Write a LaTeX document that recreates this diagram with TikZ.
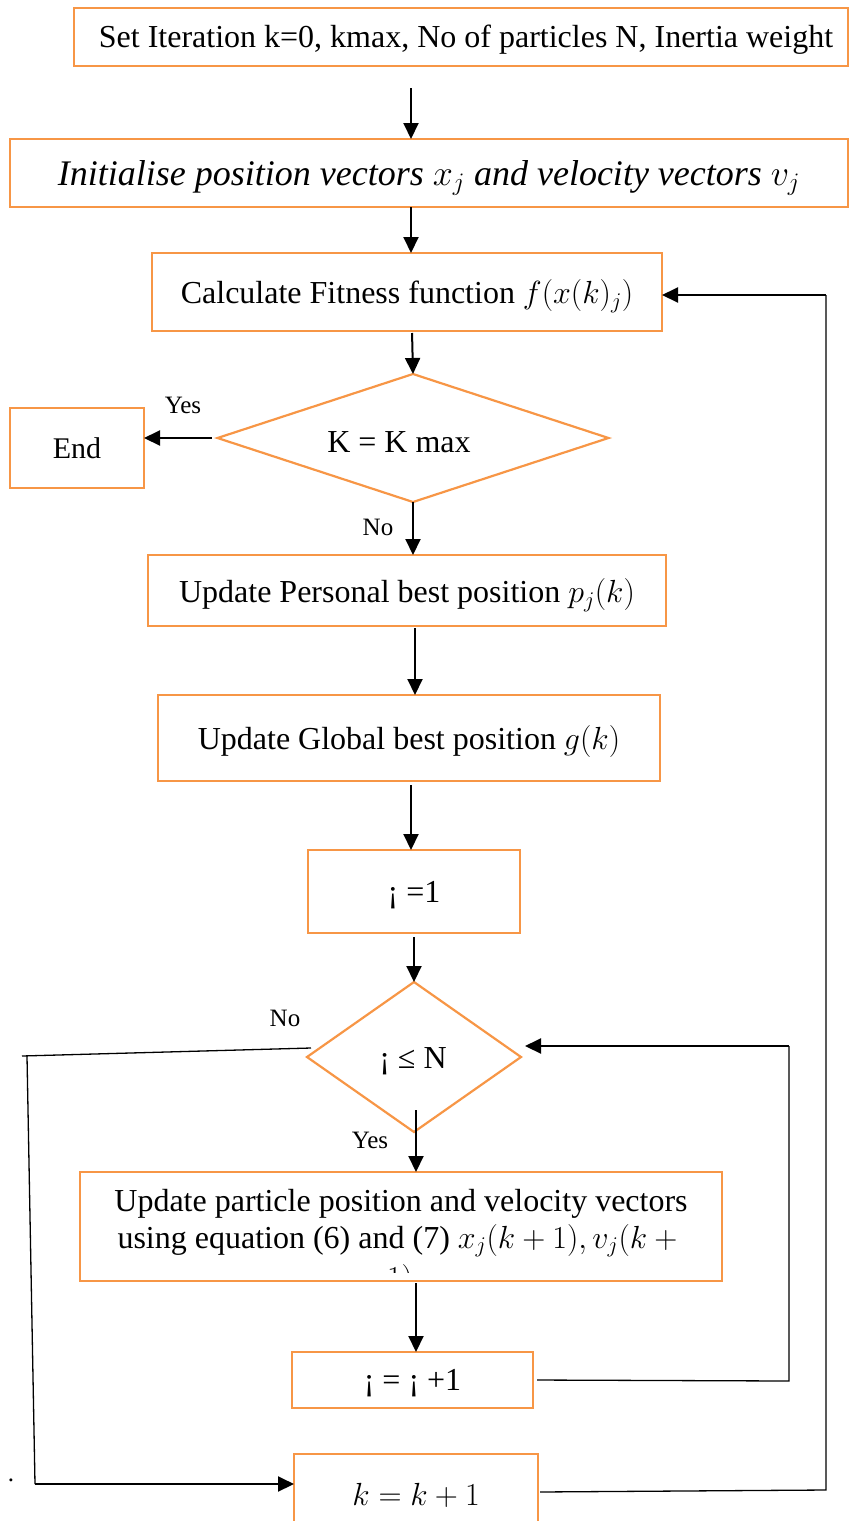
\RequirePackage{fix-cm}
\documentclass[tikz,border=0pt]{standalone}
\usepackage{fontspec}
\setmainfont{Liberation Serif}
\usetikzlibrary{shapes.geometric,arrows.meta}
\definecolor{boxorange}{HTML}{F79646}
\begin{document}
\begin{tikzpicture}[x=1pt,y=-1pt,
  box/.style={draw=boxorange,line width=2.2pt,rectangle,inner sep=0pt,outer sep=0pt,text depth=0pt,font=\fontsize{32}{37}\selectfont},
  dia/.style={draw=boxorange,line width=2.2pt,diamond,inner sep=0pt,outer sep=0pt},
  txt/.style={inner sep=0pt,font=\fontsize{32}{37}\selectfont},
  arr/.style={line width=2pt,-{Triangle[length=16pt,width=15pt]}},
  fb/.style={line width=1.3pt},
  lbl/.style={font=\fontsize{25}{30}\selectfont,inner sep=0pt}]
\clip (0,0) rectangle (849,1521);
% boxes
\node[box,minimum width=774pt,minimum height=58pt] (b1) at (461,37) {};
\node[txt] (b1t) at (466,40) {Set Iteration k=0, kmax, No of particles N, Inertia weight};
\node[box,minimum width=838pt,minimum height=68pt,font=\fontsize{36}{40}\selectfont\itshape] (b2) at (429,173) {Initialise position vectors $x_j$ and velocity vectors $v_j$};
\node[box,minimum width=510pt,minimum height=78pt] (b3) at (407,292) {Calculate Fitness function $f(x(k)_j)$};
\node[dia,minimum width=391pt,minimum height=128pt,aspect=3] (d1) at (413,438) {};
\node[txt] (d1t) at (399,442) {K = K max};
\node[box,minimum width=134pt,minimum height=80pt,font=\fontsize{30}{36}\selectfont] (e) at (77,448) {End};
\node[box,minimum width=518pt,minimum height=71pt] (b4) at (407,590.5) {Update Personal best position $p_j(k)$};
\node[box,minimum width=502pt,minimum height=86pt] (b5) at (409,738) {Update Global best position $g(k)$};
\node[box,minimum width=212pt,minimum height=83pt] (b6) at (414,891.5) {¡ =1};
\node[dia,minimum width=214pt,minimum height=150pt,aspect=1.43] (d2) at (414,1057) {};
\node[txt] (d2t) at (413,1061) {¡ ≤ N};
\node[box,minimum width=642pt,minimum height=109pt] (b7) at (401,1226.5) {};
\node[txt,align=center] (b7t) at (401,1223) {Update particle position and velocity vectors\\using equation (6) and (7) $x_j(k+1),v_j(k+{}$};
\begin{scope}
  \clip (100,1262) rectangle (700,1272);
  \node[txt] (b7c) at (400,1280) {$1)$};
\end{scope}
\node[box,minimum width=241pt,minimum height=56pt] (b8) at (412.5,1380) {¡ = ¡ +1};
\node[box,minimum width=244pt,minimum height=80pt] (b9) at (416,1494) {$k=k+1$};
% labels
\node[lbl] (y1) at (183,405) {Yes};
\node[lbl] (n1) at (378,527) {No};
\node[lbl] (n2) at (285,1018) {No};
\node[lbl] (y2) at (370,1140) {Yes};
\node[lbl] (dot) at (11,1480) {.};
% main arrows
\draw[arr,shorten <=22pt] (b1.south -| 411,0) -- (b2.north -| 411,0);
\draw[arr] (b2.south -| 411,0) -- (b3.north -| 411,0);
\draw[arr,shorten <=2pt] (b3.south -| 412,0) -- (d1.north);
\draw[arr,shorten <=6pt] (d1.west) -- (e.east |- d1.west);
\draw[arr] (d1.south) -- (b4.north -| d1.south);
\draw[arr,shorten <=2pt] (b4.south -| 415,0) -- (b5.north -| 415,0);
\draw[arr,shorten <=4pt] (b5.south -| 411,0) -- (b6.north -| 411,0);
\draw[arr,shorten <=4pt] (b6.south -| 414,0) -- (d2.north);
\draw[arr,shorten <=-22pt] (d2.south -| 416,0) -- (b7.north -| 416,0);
\draw[arr,shorten <=2pt] (b7.south -| 416,0) -- (b8.north -| 416,0);
% inner loop
\coordinate (c1) at (789,1381);
\coordinate (c2) at (789,1046);
\draw[fb,shorten <=4pt] (b8.east) -- (c1) -- (c2);
\draw[arr,shorten >=4pt] (c2) -- ([yshift=11pt]d2.east);
% exit of inner loop
\coordinate (c3) at (22,1056);
\coordinate (c3b) at (27,1056);
\coordinate (c4) at (35,1484);
\draw[fb] ([shift={(4,-9)}]d2.west) -- (c3);
\draw[fb] (c3b) -- (c4);
\draw[arr] (c4) -- ([yshift=10pt]b9.west);
% outer loop
\coordinate (c5) at (826,1490);
\coordinate (c6) at (826,295);
\draw[fb,shorten <=2pt] ([yshift=2pt]b9.east) -- (c5) -- (c6);
\draw[arr] (c6) -- ([yshift=-3pt]b3.east);
\end{tikzpicture}
\end{document}
